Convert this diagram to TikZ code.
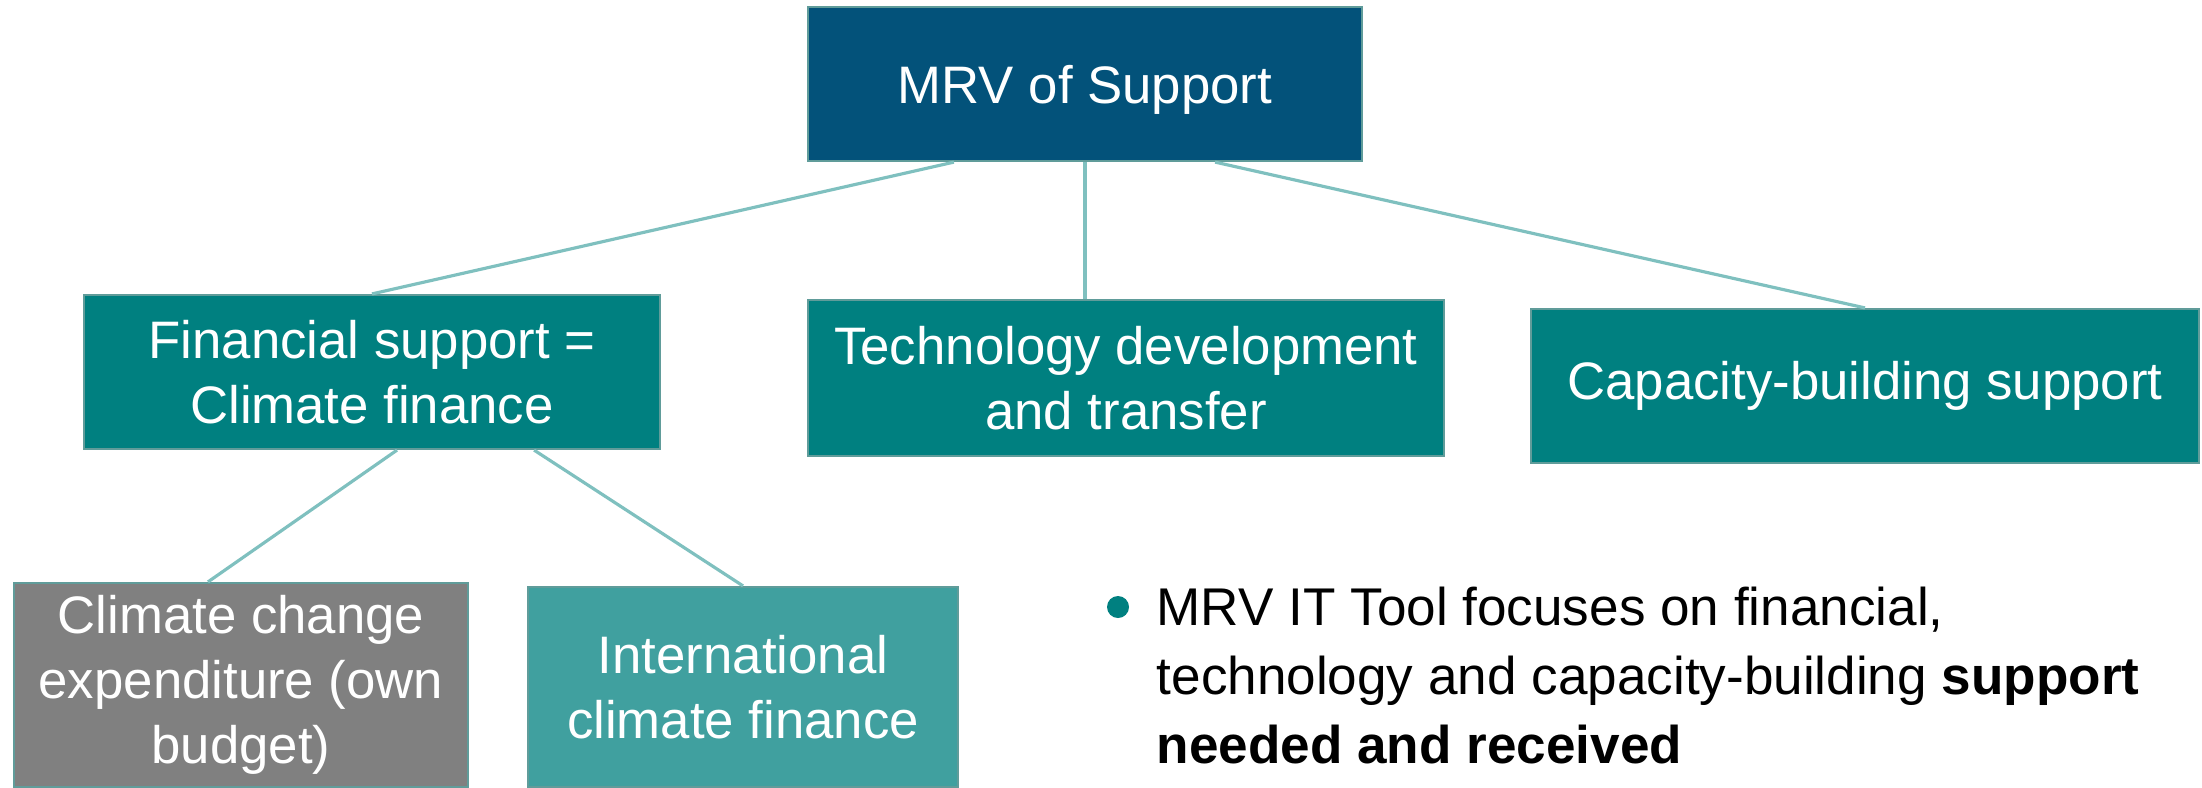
\documentclass[tikz,border=0pt]{standalone}
\usepackage{fontspec}
\setmainfont{Liberation Sans}
\usetikzlibrary{calc}

\definecolor{mrvblue}{RGB}{3,82,122}
\definecolor{mrvteal}{RGB}{0,128,128}
\definecolor{mrvlight}{RGB}{64,160,159}
\definecolor{mrvgrey}{RGB}{128,128,128}
\definecolor{mrvline}{RGB}{127,192,191}
\definecolor{mrvedge}{RGB}{96,156,154}

\begin{document}
\begin{tikzpicture}[x=0.01cm,y=-0.01cm,
    box/.style={draw=mrvedge, line width=0.6pt, fill=mrvteal, text=white,
      align=center, inner sep=0pt, font=\fontsize{15}{18.5}\selectfont},
    link/.style={draw=mrvline, line width=0.9pt}]
    \useasboundingbox (0,0) rectangle (2202,787);

    % top level
    \node[box, fill=mrvblue, text height=0.5cm, minimum width=5.53cm, minimum height=1.54cm] (top) at (1085,84) {MRV of Support};

    % second level
    \node[box, minimum width=5.76cm, minimum height=1.54cm] (fin) at (372,372) {Financial support =\\Climate finance};
    \node[box, minimum width=6.35cm, minimum height=1.56cm] (tech) at (1126,378) {Technology development\\and transfer};
    \node[box, minimum width=6.68cm, minimum height=1.54cm] (cap) at (1865,386) {Capacity-building support};

    % third level
    \node[box, fill=mrvgrey, minimum width=4.54cm, minimum height=2.04cm] (own) at (241,685) {Climate change\\expenditure (own\\budget)};
    \node[box, fill=mrvlight, minimum width=4.30cm, minimum height=2.00cm] (intl) at (743,687) {International\\climate finance};

    \draw[link] ([xshift=-1.31cm]top.south) -- (fin.north);
    \draw[link] (top.south) -- (top.south |- tech.north);
    \draw[link] ([xshift=1.30cm]top.south) -- (cap.north);
    \draw[link] ([xshift=0.25cm]fin.south) -- ([xshift=-0.33cm]own.north);
    \draw[link] ([xshift=1.62cm]fin.south) -- (intl.north);

    % note
    \fill[mrvteal] (1118,607) circle (0.11cm);
    \node[anchor=north west, inner sep=0pt, align=left, font=\fontsize{15.1}{19.6}\selectfont] (note) at (1156,586)
      {MRV IT Tool focuses on financial,\\technology and capacity-building \textbf{support}\\\textbf{needed and received}};
\end{tikzpicture}
\end{document}
